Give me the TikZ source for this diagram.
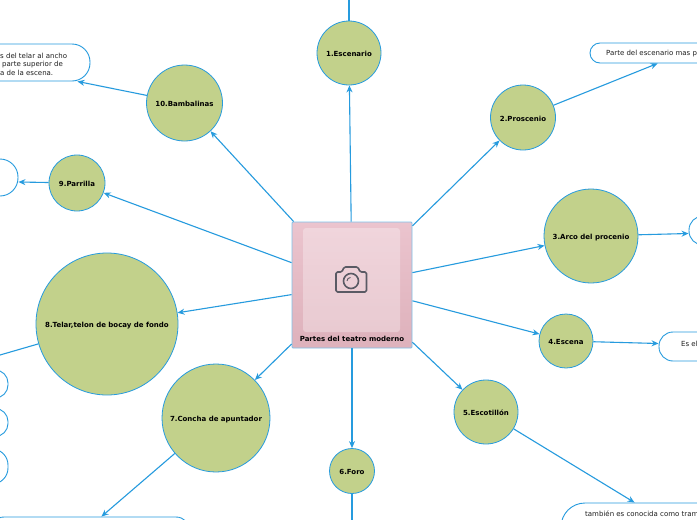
\documentclass[tikz,border=0pt]{standalone}
\usepackage{fontspec}
\setmainfont{DejaVu Sans}
\usetikzlibrary{arrows.meta,shadings}
\definecolor{mapblue}{RGB}{38,155,222}
\definecolor{mapgreen}{RGB}{194,209,139}
\definecolor{mapicon}{RGB}{90,90,100}
\definecolor{mapink}{RGB}{30,30,30}
\definecolor{pinka}{RGB}{238,192,204}
\definecolor{pinkb}{RGB}{218,172,182}
\definecolor{pinkc}{RGB}{245,210,220}
\pgfdeclareverticalshading{mainshade}{126bp}{
  color(0bp)=(pinka);
  color(10bp)=(pinka);
  color(24bp)=(pinkb);
  color(126bp)=(pinkc)}
\begin{document}
\begin{tikzpicture}[x=1pt,y=-1pt,
      c/.style={circle,draw=mapblue,fill=mapgreen,line width=0.8pt,inner sep=0pt,text height=7pt,text depth=0pt,font=\fontsize{7}{8}\selectfont\bfseries,text=black},
      b/.style={draw=mapblue,rounded corners=#1,line width=0.9pt,fill=white,inner sep=0pt},
      b/.default=14pt,
      t/.style={font=\fontsize{7}{8.4}\selectfont,text=mapink,align=left,inner sep=0pt,anchor=west},
      conn/.style={-{Stealth[length=7pt,width=6pt]},draw=mapblue,line width=1.1pt},
      plain/.style={draw=mapblue,line width=1.1pt},
      >={Stealth[]}]
    \useasboundingbox (0,0) rectangle (697,520);
    \fill[white] (0,0) rectangle (697,520);
    \node[draw=mapblue!60,line width=0.9pt,rounded corners=1pt,shading=mainshade,minimum width=120pt,minimum height=126pt,inner sep=0pt] (main) at (352,285) {};
    \node[rounded corners=3pt,fill=white,fill opacity=0.3,minimum width=97pt,minimum height=104pt,inner sep=0pt] (panel) at (351.5,280) {};
    \node[font=\fontsize{7}{8}\selectfont\bfseries,text=black,inner sep=0pt] (maintext) at (352,339) {Partes del teatro moderno};
    \draw[mapicon,line width=1.6pt,line join=round,rounded corners=1.5pt] (336,292) -- (336,272) -- (342,272) -- (344,267) -- (358,267) -- (360,272) -- (366.5,272) -- (366.5,292) -- cycle;
    \node[circle,draw=mapicon,line width=1.6pt,minimum size=15pt,inner sep=0pt] (lens) at (351,281) {};
    \draw[mapicon,line width=0.9pt] (347,281) arc[start angle=180,end angle=90,radius=3.5pt];
    \node[c,minimum size=64pt] (n1) at (349,53) {1.Escenario};
    \node[c,minimum size=65pt] (n2) at (523,117.5) {2.Proscenio};
    \node[c,minimum size=94pt] (n3) at (591,236) {3.Arco del procenio};
    \node[c,minimum size=54pt] (n4) at (566,341) {4.Escena};
    \node[c,minimum size=64pt] (n5) at (486,412) {5.Escotillón};
    \node[c,minimum size=45pt] (n6) at (352,471) {6.Foro};
    \node[c,minimum size=108pt] (n7) at (216,418) {7.Concha de apuntador};
    \node[c,minimum size=142pt] (n8) at (107,324) {8.Telar,telon de bocay de fondo};
    \node[c,minimum size=56pt] (n9) at (77,183) {9.Parrilla};
    \node[c,minimum size=76pt] (n10) at (184.5,103) {10.Bambalinas};
    \node[b=18pt,minimum width=160pt,minimum height=37pt] (box10) at (10,62.5) {};
    \node[t] (text10) at (0,64) {s del telar al ancho\\\hspace{2pt}parte superior de\\a de la escena.};
    \node[b=18pt,minimum width=80pt,minimum height=37pt] (box9) at (-22,177.5) {};
    \node[b=10pt,minimum width=200pt,minimum height=20pt] (box2) at (690,53) {};
    \node[t] (text2) at (606,54) {Parte del escenario mas p};
    \node[b=14pt,minimum width=80pt,minimum height=29pt] (box3) at (729,230.5) {};
    \node[b=14pt,minimum width=100pt,minimum height=29pt] (box4) at (709,346.5) {};
    \node[t] (text4) at (681,343.5) {Es el};
    \node[b=24pt,minimum width=240pt,minimum height=70pt] (box5) at (681,538) {};
    \node[t] (text5) at (585,514) {también es conocida como tram};
    \node[b=14pt,minimum width=200pt,minimum height=60pt] (box7) at (90,547) {};
    \node[b=13pt,minimum width=60pt,minimum height=28pt] (box8a) at (-22,384) {};
    \node[b=13pt,minimum width=60pt,minimum height=28pt] (box8b) at (-22,422.5) {};
    \node[b=16pt,minimum width=60pt,minimum height=35pt] (box8c) at (-22,466.5) {};
    \coordinate (up) at (349,0);
    \coordinate (down) at (352,520);
    \coordinate (left) at (0,355);
    \draw[conn] (main) -- (n1);
    \draw[conn] (main) -- (n2);
    \draw[conn] (main) -- (n3);
    \draw[conn] (main) -- (n4);
    \draw[conn] (main) -- (n5);
    \draw[conn] (main) -- (n6);
    \draw[conn] (main) -- (n7);
    \draw[conn] (main) -- (n8);
    \draw[conn] (main) -- (n9);
    \draw[conn] (main) -- (n10);
    \draw[plain] (n1) -- (up);
    \draw[plain] (n6) -- (down);
    \draw[plain] (n8) -- (left);
    \draw[conn] (n10) -- ([xshift=-13pt]box10.south east);
    \draw[conn] (n9) -- ([yshift=-4.5pt]box9.east);
    \draw[conn] (n2) -- ([xshift=68pt]box2.south west);
    \draw[conn] (n3) -- ([yshift=-3pt]box3.west);
    \draw[conn] (n4) -- ([yshift=3pt]box4.west);
    \draw[conn] (n5) -- ([xshift=74pt]box5.north west);
    \draw[conn] (n7) -- ([xshift=-89pt]box7.north east);
  \end{tikzpicture}
\end{document}
